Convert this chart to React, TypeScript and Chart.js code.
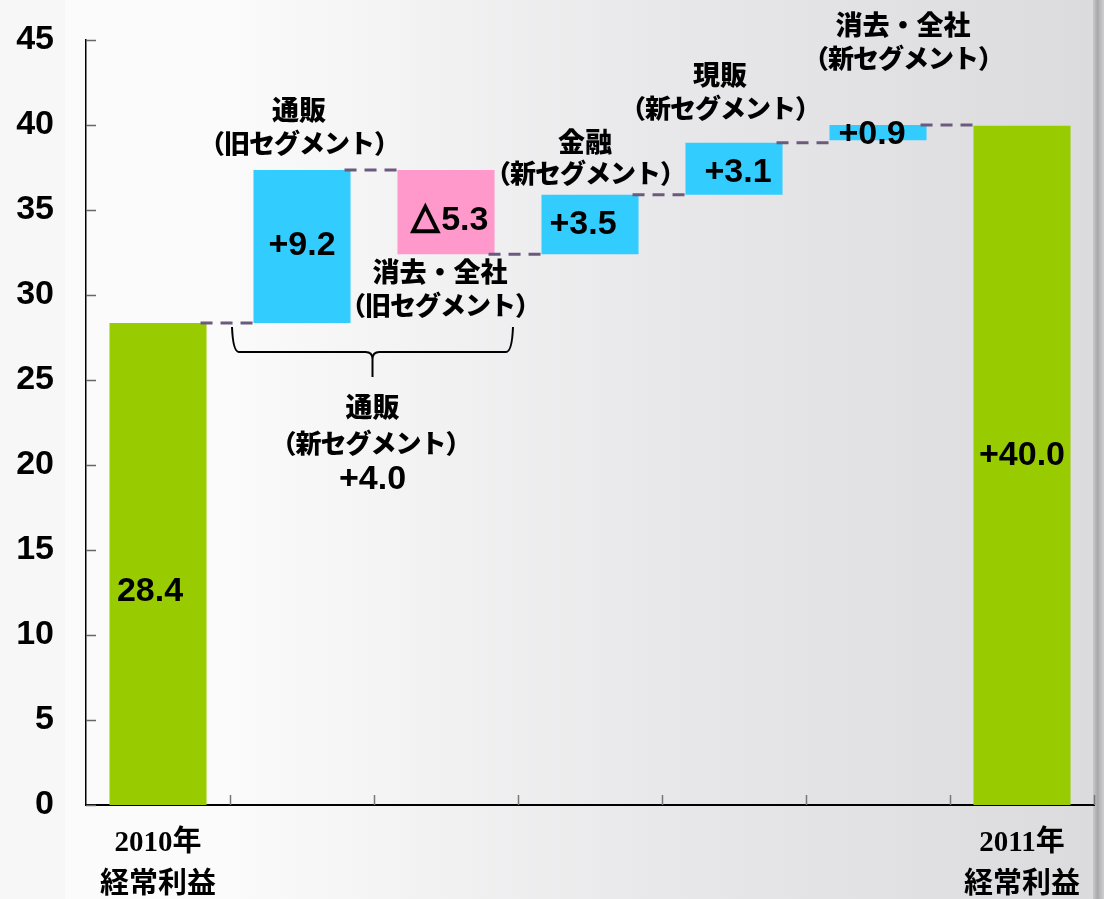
import { useEffect, useRef } from 'react';
import { Chart, registerables } from 'chart.js';

Chart.register(...registerables);

// ---- data ----
const categoryLines: string[][] = [
  ['2010年', '経常利益'],
  ['通販', '（旧セグメント）'],
  ['消去・全社', '（旧セグメント）'],
  ['金融', '（新セグメント）'],
  ['現販', '（新セグメント）'],
  ['消去・全社', '（新セグメント）'],
  ['2011年', '経常利益'],
];
const barStarts = [0, 28.35, 37.35, 32.4, 35.9, 39.1, 0];
const barEnds = [28.35, 37.35, 32.4, 35.9, 38.95, 40.0, 39.95];
const barKinds = ['total', 'up', 'down', 'up', 'up', 'up', 'total'];
const valueLabels = ['28.4', '+9.2', '△5.3', '+3.5', '+3.1', '+0.9', '+40.0'];
const groupLabel = ['通販', '（新セグメント）', '+4.0'];
const yMin = 0;
const yMax = 45;
const yStep = 5;

const kindColors: Record<string, string> = {
  total: '#99cc00',
  up: '#33ccff',
  down: '#ff99cc',
};

const LABEL_FONT = "'Liberation Sans', Arial, sans-serif";
const CJK_FONT = "'Noto Sans CJK JP', 'Liberation Sans', sans-serif";
const CJK_WEIGHT = '900';

// label pixel offsets relative to bar middle
const labelDx = [-8, 0, 4, -7, 4, -6, 0];
const labelDy = [28, -1, 8, 0, 4, 2, -10];

// annotation placements: [barIndex, anchor ('top'|'bottom'), dx, dy line1, dy line2]
const annotationPlacement: Array<[number, 'top' | 'bottom', number, number, number]> = [
  [1, 'top', -3, -60, -27],
  [2, 'bottom', -6, 18, 51],
  [3, 'top', -5, -53, -22],
  [4, 'top', -14, -68, -35],
  [5, 'top', 25, -100, -67],
];

const waterfallPlugin = {
  id: 'waterfallExtras',
  beforeDraw(chart: any) {
    const { ctx, width, height } = chart;
    ctx.save();
    const g = ctx.createLinearGradient(0, 0, width, 0);
    g.addColorStop(0, '#fbfbfb');
    g.addColorStop(0.2, '#fbfbfb');
    g.addColorStop(0.6, '#e8e8ea');
    g.addColorStop(1, '#dbdbdd');
    ctx.fillStyle = g;
    ctx.fillRect(0, 0, width, height);
    ctx.fillStyle = 'rgba(0,0,0,0.015)';
    ctx.fillRect(0, 0, 65, height);
    const e = ctx.createLinearGradient(1093, 0, 1104, 0);
    e.addColorStop(0, '#c9c9cb');
    e.addColorStop(0.4, '#a9a9ab');
    e.addColorStop(1, '#cfcfd1');
    ctx.fillStyle = e;
    ctx.fillRect(1093, 0, 11, height);
    ctx.restore();
  },
  afterDatasetsDraw(chart: any) {
    const { ctx, chartArea } = chart;
    const xs = chart.scales.x;
    const ys = chart.scales.y;
    const meta = chart.getDatasetMeta(0);
    const bars = meta.data;
    ctx.save();

    // inward y ticks
    ctx.strokeStyle = '#666';
    ctx.lineWidth = 1.5;
    for (let v = yMin; v <= yMax; v += yStep) {
      const y = Math.round(ys.getPixelForValue(v)) + 0.5;
      ctx.beginPath();
      ctx.moveTo(chartArea.left, y);
      ctx.lineTo(chartArea.left + 10, y);
      ctx.stroke();
    }
    // inward x ticks at category boundaries
    ctx.strokeStyle = '#777';
    const n = categoryLines.length;
    for (let i = 1; i <= n; i++) {
      const x = i < n ? (xs.getPixelForTick(i - 1) + xs.getPixelForTick(i)) / 2 : chartArea.right;
      ctx.beginPath();
      ctx.moveTo(Math.round(x) + 0.5, chartArea.bottom);
      ctx.lineTo(Math.round(x) + 0.5, chartArea.bottom - 10);
      ctx.stroke();
    }

    // dashed connectors
    ctx.strokeStyle = '#6b5a7e';
    ctx.lineWidth = 3;
    ctx.setLineDash([12, 8]);
    for (let i = 0; i < bars.length - 1; i++) {
      const b = bars[i];
      const nb = bars[i + 1];
      const y = ys.getPixelForValue(barEnds[i]);
      ctx.beginPath();
      ctx.moveTo(b.x + b.width / 2 - 6, y);
      ctx.lineTo(nb.x - nb.width / 2, y);
      ctx.stroke();
    }
    ctx.setLineDash([]);

    // value labels in bars
    ctx.fillStyle = '#000';
    ctx.strokeStyle = '#000';
    ctx.textAlign = 'center';
    ctx.textBaseline = 'middle';
    ctx.font = `bold 34px ${LABEL_FONT}`;
    bars.forEach((b: any, i: number) => {
      const mid = (b.y + b.base) / 2;
      const txt = valueLabels[i];
      if (txt.startsWith('△')) {
        const triFont = `bold 36px 'DejaVu Sans', ${CJK_FONT}`;
        ctx.font = triFont;
        const w1 = ctx.measureText('△').width + 2;
        ctx.font = `bold 34px ${LABEL_FONT}`;
        const w2 = ctx.measureText(txt.slice(1)).width;
        const x0 = b.x + labelDx[i] - (w1 + w2) / 2;
        ctx.textAlign = 'left';
        ctx.font = triFont;
        ctx.lineWidth = 2;
        ctx.fillText('△', x0, mid + labelDy[i] - 1);
        ctx.strokeText('△', x0, mid + labelDy[i] - 1);
        ctx.font = `bold 34px ${LABEL_FONT}`;
        ctx.fillText(txt.slice(1), x0 + w1, mid + labelDy[i]);
        ctx.textAlign = 'center';
      } else {
        ctx.fillText(txt, b.x + labelDx[i], mid + labelDy[i]);
      }
    });

    // category annotations
    annotationPlacement.forEach(([idx, anchor, dx, dy1, dy2]) => {
      const b = bars[idx];
      const top = Math.min(b.y, b.base);
      const bottom = Math.max(b.y, b.base);
      const ref = anchor === 'top' ? top : bottom;
      const [l1, l2] = categoryLines[idx];
      ctx.font = `${CJK_WEIGHT} 27px ${CJK_FONT}`;
      (ctx as any).letterSpacing = '0px';
      ctx.fillText(l1, b.x + dx, ref + dy1);
      ctx.font = `${CJK_WEIGHT} 26px ${CJK_FONT}`;
      (ctx as any).letterSpacing = '-1px';
      ctx.fillText(l2, b.x + dx, ref + dy2);
      (ctx as any).letterSpacing = '0px';
    });

    // brace under bars 1-2
    const b1 = bars[1];
    const b2 = bars[2];
    const left = b1.x - 70;
    const right = b2.x + 67;
    const cx = (left + right) / 2;
    const yTop = ys.getPixelForValue(barEnds[0]) + 4;
    const yMid = yTop + 25;
    const yTip = yTop + 50;
    ctx.strokeStyle = '#000';
    ctx.lineWidth = 2;
    ctx.beginPath();
    ctx.moveTo(left, yTop);
    ctx.quadraticCurveTo(left + 1, yMid, left + 7, yMid);
    ctx.lineTo(cx - 7, yMid);
    ctx.quadraticCurveTo(cx, yMid, cx, yMid + 7);
    ctx.lineTo(cx, yTip);
    ctx.moveTo(cx, yMid + 7);
    ctx.quadraticCurveTo(cx, yMid, cx + 7, yMid);
    ctx.lineTo(right - 7, yMid);
    ctx.quadraticCurveTo(right - 1, yMid, right, yTop);
    ctx.stroke();

    // group label under brace
    ctx.font = `${CJK_WEIGHT} 27px ${CJK_FONT}`;
    ctx.fillText(groupLabel[0], cx, yTop + 80);
    ctx.font = `${CJK_WEIGHT} 26px ${CJK_FONT}`;
    (ctx as any).letterSpacing = '-1px';
    ctx.fillText(groupLabel[1], cx - 2, yTop + 116);
    (ctx as any).letterSpacing = '0px';
    ctx.font = `bold 34px ${LABEL_FONT}`;
    ctx.fillText(groupLabel[2], cx, yTop + 153);

    ctx.restore();
  },
};

export default function App() {
  const ref = useRef<HTMLCanvasElement | null>(null);
  useEffect(() => {
    if (!ref.current) return;
    const chart = new Chart(ref.current, {
      type: 'bar',
      data: {
        labels: categoryLines.map((l) => l.join(' ')),
        datasets: [
          {
            data: barStarts.map((s, i) => [s, barEnds[i]]) as any,
            backgroundColor: barKinds.map((k) => kindColors[k]),
            borderWidth: 0,
            barPercentage: 1,
            categoryPercentage: 0.674,
          },
        ],
      },
      options: {
        animation: false,
        responsive: false,
        maintainAspectRatio: false,
        layout: { padding: { top: 40, right: 10, left: 0, bottom: 0 } },
        plugins: { legend: { display: false }, tooltip: { enabled: false } },
        scales: {
          x: {
            grid: { display: false, drawTicks: false },
            border: { display: true, color: '#000', width: 2 },
            afterFit: (s: any) => {
              s.height = 94;
            },
            ticks: {
              autoSkip: false,
              maxRotation: 0,
              padding: 17,
              color: '#000',
              font: {
                family: "'Liberation Serif', 'Noto Sans CJK JP', serif",
                size: 29,
                weight: 'bold',
                lineHeight: 1.45,
              },
              callback: (_v: any, i: number) =>
                i === 0 || i === categoryLines.length - 1 ? categoryLines[i] : '',
            },
          },
          y: {
            min: yMin,
            max: yMax,
            grid: { display: false, drawTicks: false },
            border: { display: true, color: '#000', width: 1.5 },
            afterFit: (s: any) => {
              s.width = 86;
              s.paddingTop = 0;
              s.paddingBottom = 0;
            },
            ticks: {
              stepSize: yStep,
              padding: 32,
              color: '#000',
              font: { family: LABEL_FONT, size: 34, weight: 'bold' },
            },
          },
        },
      },
      plugins: [waterfallPlugin],
    });
    return () => chart.destroy();
  }, []);
  return (
    <div style={{ position: 'absolute', left: 0, top: 0, width: 1104, height: 899 }}>
      <canvas ref={ref} width={1104} height={899} />
    </div>
  );
}
